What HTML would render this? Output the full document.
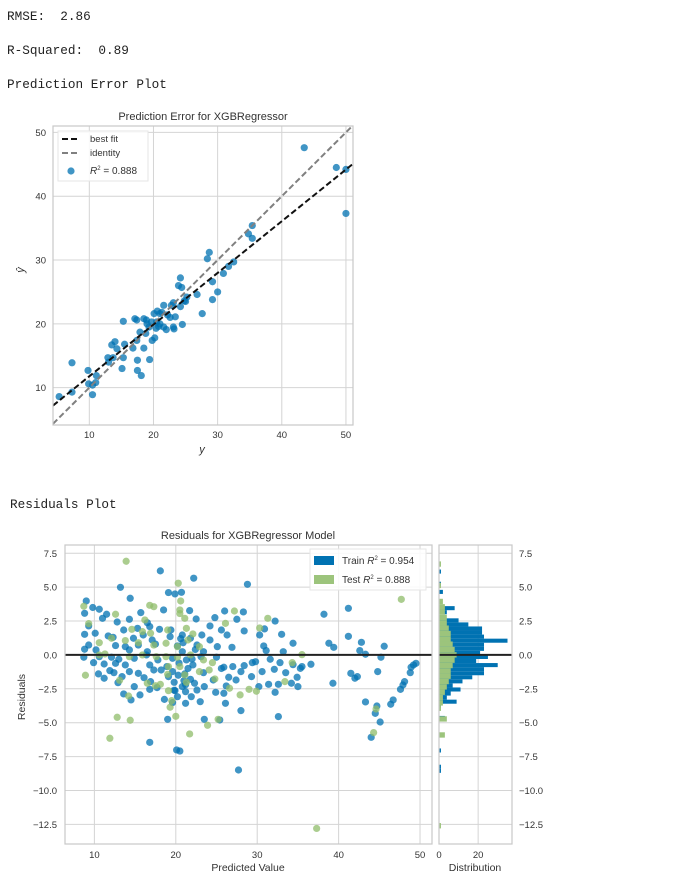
<!DOCTYPE html>
<html><head><meta charset="utf-8"><style>
body{margin:0;background:#fff;width:677px;height:890px;overflow:hidden}
.mono{font-family:"Liberation Mono",monospace;font-size:12.7px;fill:#222;white-space:pre}
.sans{font-family:"Liberation Sans","DejaVu Sans",sans-serif;fill:#333}
</style></head><body>
<svg id="root" width="677" height="890" xmlns="http://www.w3.org/2000/svg">
<text class="mono" x="7" y="20" xml:space="preserve">RMSE:  2.86</text>
<text class="mono" x="7" y="54" xml:space="preserve">R-Squared:  0.89</text>
<text class="mono" x="7" y="88">Prediction Error Plot</text>
<text class="mono" x="10" y="508">Residuals Plot</text>
<g id="pe"></g>
<g id="res"></g>
</svg>
<script>
// ---------- Prediction error data ----------
const peActual=[43.5,48.5,50,50,34.8,35.4,35.4,28.7,28.4,32.5,31.7,30.9,24.2,23.9,24.4,29.2,30,26.8,29.2,25.2,25,23.1,21.6,22.8,24.2,27.6,20.6,20.1,21,23.4,22.6,15.3,17.1,17.4,18.5,18.9,19.7,20.5,21,19.3,21.6,23.1,24.5,20.4,22,23.2,17.9,18.8,20.2,19.8,17.4,13.5,14,14.3,15.5,16.8,18.5,12.9,13.7,15.3,17.5,19.4,15.1,17.5,18.1,7.3,9.8,9.9,10.5,11,11.1,10.5,7.3,5.3,13,22.2,21.3,19.0,20.8,24.8];
const pePred=[47.6,44.5,44.2,37.3,34.1,35.4,33.4,31.2,30.2,29.7,29,27.9,27.2,26,25.7,26.6,25,24.6,23.8,24.2,23.5,23.3,22.9,22.9,22.7,21.6,22,21.6,21.6,21.1,21,20.4,20.8,20.6,20.8,20.6,20.3,20.3,20,19.5,19.5,19.5,19.9,19.3,19.1,19.2,18.7,18.5,17.8,17.4,17.4,16.7,17.2,16.1,16.8,16.2,16.2,14.7,14.7,14.7,14.3,14.4,13,12.7,11.9,13.9,12.7,10.6,10.4,10.8,11.9,8.9,9.3,8.6,14,21.4,21.8,20.0,19.6,23.6];
const peXTicks=[10,20,30,40,50];
const peYTicks=[10,20,30,40,50];
const fitSlope=0.81, fitIntercept=3.68;

// ---------- Residuals data ----------
const trainPred=[18.1,22.2,28.8,13.2,19.1,19.9,20.7,14.4,9.0,9.8,10.6,41.2,26.0,28.3,21.7,18.5,15.7,8.8,11.5,38.2,11.0,14.3,24.8,27.5,32.2,22.5,12.8,16.5,9.3,10.1,8.8,13.6,15.3,16.8,18.0,19.4,24.2,25.6,28.4,30.9,11.7,16.0,20.8,23.2,26.3,30.3,33.0,41.2,12.3,14.8,17.1,19.3,21.8,24.2,12.6,9.3,13.8,15.4,17.5,20.2,22.6,25.1,26.9,30.8,34.4,38.8,39.4,42.8,45.6,8.8,10.2,14.3,16.5,20.8,23.4,31.1,33.2,42.6,43.3,8.7,10.6,12.1,13.0,14.9,16.4,17.8,19.6,21.3,23.1,25.0,29.8,31.6,45.2,9.9,11.2,12.6,13.8,16.8,18.9,22.1,25.9,27.0,28.4,29.4,32.8,34.4,36.6,35.3,49.2,49.5,48.9,11.9,14.3,17.3,19.6,21.1,23.4,25.6,28.0,30.6,32.1,35.5,10.5,12.4,15.4,18.2,41.5,48.8,44.8,11.2,13.4,16.1,19.1,21.8,24.6,26.5,29.3,33.5,34.9,42.0,42.3,48.1,47.9,12.9,16.9,19.8,22.3,27.4,31.4,34.2,39.3,14.9,17.7,20.8,23.5,26.2,30.2,32.6,35.0,47.6,13.6,16.8,19.9,21.2,22.6,24.9,25.9,32.2,15.6,18.6,20.2,21.9,14.5,19.6,21.2,23.0,26.1,43.3,46.7,46.4,44.7,28.0,44.5,19.0,23.5,25.4,32.6,45.1,16.8,44.0,20.1,20.5,27.7,20.4,21.0,22.0,19.8,20.9,21.5,22.4,20.3,21.2,20.6];
const trainRes=[6.2,5.66,5.21,4.99,4.6,4.5,4.62,4.18,3.98,3.5,3.37,3.44,3.24,3.17,3.27,3.32,3.12,3.07,3.0,3.0,2.7,2.63,2.75,2.63,2.5,2.65,2.43,2.38,2.14,1.6,1.52,1.84,1.96,2.09,1.89,1.84,2.14,1.84,1.77,1.92,1.4,1.47,1.47,1.47,1.47,1.47,1.52,1.37,1.3,1.23,1.1,1.35,1.23,1.1,0.69,0.73,0.61,0.73,0.8,0.66,0.73,0.61,0.56,0.66,0.86,0.86,0.56,0.93,0.64,0.42,0.37,0.37,0.24,0.24,0.24,0.32,0.24,0.32,0.05,-0.17,-0.13,-0.17,-0.32,-0.25,0.0,-0.37,-0.25,-0.37,-0.13,-0.17,-0.5,-0.32,-0.17,-0.57,-0.67,-0.62,-0.74,-0.74,-0.86,-0.74,-0.91,-0.86,-0.79,-0.57,-0.57,-0.72,-0.69,-0.99,-0.74,-0.62,-0.91,-1.16,-1.23,-1.11,-1.23,-1.4,-1.31,-1.0,-1.23,-1.23,-1.06,-0.86,-1.4,-1.31,-1.36,-1.11,-1.36,-1.31,-1.23,-1.72,-1.6,-1.68,-1.6,-1.8,-1.85,-1.65,-1.6,-1.31,-1.65,-1.72,-1.6,-1.97,-2.22,-2.05,-1.97,-2.02,-2.09,-1.85,-2.17,-2.09,-2.09,-2.34,-2.41,-2.34,-2.34,-2.29,-2.34,-2.17,-2.34,-2.54,-2.88,-2.54,-2.64,-2.71,-2.59,-2.76,-2.83,-2.76,-2.95,-3.28,-3.08,-3.08,-3.32,-3.52,-3.57,-3.45,-3.57,-3.47,-3.32,-3.64,-3.77,-4.11,-4.31,-4.75,-4.75,-4.8,-4.55,-4.95,-6.45,-6.08,-7.01,-7.09,-8.49,-0.6,-1.9,-0.3,-2.6,0.9,-1.0,0.4,-1.5,-2.2,1.2];
const testPred=[13.9,20.3,20.6,47.7,8.7,16.8,17.3,20.5,27.2,12.6,9.3,16.2,20.5,21.1,26.1,31.3,30.3,14.6,15.9,16.9,19.0,21.3,22.1,12.1,10.6,13.8,15.4,17.3,18.8,20.2,21.5,22.9,11.3,10.6,14.3,15.9,17.6,18.8,20.2,21.8,23.4,35.5,34.3,19.1,20.5,24.5,22.9,8.9,19.0,21.1,24.1,13.1,16.5,17.5,18.1,21.3,24.8,26.6,29.0,29.9,33.4,14.2,19.1,27.9,19.5,19.3,44.6,12.8,14.4,20.0,25.2,23.9,11.9,21.7,44.3,37.3];
const testRes=[6.91,5.29,3.98,4.1,3.59,3.66,3.56,3.32,3.24,3.0,2.31,2.58,3.05,2.7,2.33,2.7,1.99,1.89,1.72,1.6,1.84,1.96,1.55,1.23,0.9,1.06,0.9,0.73,0.86,0.61,1.1,0.61,0.07,0.0,-0.13,0.0,-0.13,-0.13,-0.17,0.0,-0.37,0.02,-0.57,-0.86,-0.86,-0.57,-1.23,-1.5,-1.43,-1.48,-1.11,-1.87,-2.09,-2.27,-2.17,-2.02,-1.77,-2.46,-2.54,-2.68,-1.97,-3.03,-2.64,-2.95,-3.37,-3.86,-3.99,-4.6,-4.82,-4.53,-4.75,-5.19,-6.15,-5.83,-5.73,-12.8];
const resXTicks=[10,20,30,40,50];
const resYTicks=[7.5,5.0,2.5,0.0,-2.5,-5.0,-7.5,-10.0,-12.5];
const histXTicks=[0,20];
const trainBinStart=-8.7, trainBinWidth=0.3;
const trainCounts=[1,1,0,0,0,1,0,0,0,0,0,0,0,3,0,0,1,9,4,6,11,7,12,17,23,23,30,19,25,21,23,23,35,23,22,22,15,10,0,4,8,0,0,0,2,0,1,0,0,1];
const testBinStart=-12.8, testBinWidth=0.394;
const testCounts=[1,0,0,0,0,0,0,0,0,0,0,0,0,0,0,0,0,3,0,0,4,0,1,2,2,3,4,5,6,6,7,8,9,8,7,6,6,5,4,4,3,3,2,0,0,1,0,0,0,1];

const NS="http://www.w3.org/2000/svg";
function mk(parent,tag,attrs,name,txt){
  const e=document.createElementNS(NS,tag);
  for(const k in attrs)e.setAttribute(k,attrs[k]);
  
  
  if(txt!==undefined)e.textContent=txt;
  parent.appendChild(e);return e;
}
const GRID="#d4d4d4", FRAME="#c8c8c8", BLUE="#0072b2", GREEN="#8fbc6a", PR=3.6;

// ---------- Prediction error chart ----------
(function(){
  const g=document.getElementById('pe');
  const L=53,R=353,T=126,B=425,x0=4.34,x1=51.1,y0=4.15,y1=51.0;
  const sx=v=>L+(v-x0)/(x1-x0)*(R-L), sy=v=>B-(v-y0)/(y1-y0)*(B-T);
  mk(g,'rect',{x:L,y:T,width:R-L,height:B-T,fill:'#fff'},'plot-area');
  peXTicks.forEach(t=>{mk(g,'line',{x1:sx(t),x2:sx(t),y1:T,y2:B,stroke:GRID,'stroke-width':1},'x-gridline');
    mk(g,'text',{x:sx(t),y:B+13,'text-anchor':'middle','font-size':9.5,class:'sans'},'x-tick-label',t);});
  peYTicks.forEach(t=>{mk(g,'line',{x1:L,x2:R,y1:sy(t),y2:sy(t),stroke:GRID,'stroke-width':1},'y-gridline');
    mk(g,'text',{x:L-7,y:sy(t)+3.5,'text-anchor':'end','font-size':9.5,class:'sans'},'y-tick-label',t);});
  const cp=mk(g,'clipPath',{id:'peclip'},'clip');mk(cp,'rect',{x:L,y:T,width:R-L,height:B-T},'clip-rect');
  const cg=mk(g,'g',{'clip-path':'url(#peclip)'},'plot-marks');
  peActual.forEach((a,i)=>{mk(cg,'circle',{cx:sx(a),cy:sy(pePred[i]),r:PR,fill:BLUE,'fill-opacity':0.75},'data-point');});
  mk(cg,'line',{x1:sx(x0),y1:sy(x0),x2:sx(x1),y2:sy(x1),stroke:'#808080','stroke-width':2,'stroke-dasharray':'6,3'},'identity-line');
  mk(cg,'line',{x1:sx(x0),y1:sy(fitSlope*x0+fitIntercept),x2:sx(x1),y2:sy(fitSlope*x1+fitIntercept),stroke:'#111','stroke-width':2,'stroke-dasharray':'6,3'},'best-fit-line');
  mk(g,'rect',{x:L,y:T,width:R-L,height:B-T,fill:'none',stroke:FRAME,'stroke-width':1.2},'plot-frame');
  const lg=mk(g,'g',{},'legend');
  mk(lg,'rect',{x:58,y:131,width:90,height:50,fill:'#fff','fill-opacity':0.85,stroke:'#e6e6e6'},'legend-box');
  mk(lg,'line',{x1:62,x2:80,y1:139,y2:139,stroke:'#111','stroke-width':2,'stroke-dasharray':'6,3'},'legend-best-fit-swatch');
  mk(lg,'text',{x:90,y:142,'font-size':9.5,class:'sans'},'legend-best-fit','best fit');
  mk(lg,'line',{x1:62,x2:80,y1:153,y2:153,stroke:'#808080','stroke-width':2,'stroke-dasharray':'6,3'},'legend-identity-swatch');
  mk(lg,'text',{x:90,y:156,'font-size':9.5,class:'sans'},'legend-identity','identity');
  mk(lg,'circle',{cx:71,cy:171,r:PR,fill:BLUE,'fill-opacity':0.75},'legend-r2-swatch');
  const t=mk(lg,'text',{x:90,y:174,'font-size':10,class:'sans'},'legend-r2');
  t.innerHTML='<tspan font-style="italic">R</tspan><tspan font-size="6" dy="-4">2</tspan><tspan dy="4"> = 0.888</tspan>';
  mk(g,'text',{x:203,y:120,'text-anchor':'middle','font-size':11,class:'sans'},'chart-title','Prediction Error for XGBRegressor');
  mk(g,'text',{x:202,y:453,'text-anchor':'middle','font-size':11,'font-style':'italic',class:'sans'},'x-axis-title','y');
  mk(g,'text',{x:24,y:270,'text-anchor':'middle','font-size':11,'font-style':'italic',class:'sans',transform:'rotate(-90 24 270)'},'y-axis-title','ŷ');
})();

// ---------- Residuals chart ----------
(function(){
  const g=document.getElementById('res');
  const L=65,R=432,T=545,B=844,x0=6.39,x1=51.47,y0=-13.95,y1=8.11;
  const HL=439,HR=512,h0=0,h1=37.3;
  const sx=v=>L+(v-x0)/(x1-x0)*(R-L), sy=v=>B-(v-y0)/(y1-y0)*(B-T);
  const hx=v=>HL+(v-h0)/(h1-h0)*(HR-HL);
  mk(g,'rect',{x:L,y:T,width:R-L,height:B-T,fill:'#fff'},'residuals-plot-area');
  mk(g,'rect',{x:HL,y:T,width:HR-HL,height:B-T,fill:'#fff'},'histogram-plot-area');
  resXTicks.forEach(t=>{mk(g,'line',{x1:sx(t),x2:sx(t),y1:T,y2:B,stroke:GRID},'x-gridline');
    mk(g,'text',{x:sx(t),y:B+14,'text-anchor':'middle','font-size':9.5,class:'sans'},'x-tick-label',t);});
  resYTicks.forEach(t=>{
    const lab=t<0?'−'+Math.abs(t).toFixed(1):t.toFixed(1);
    mk(g,'line',{x1:L,x2:R,y1:sy(t),y2:sy(t),stroke:GRID},'y-gridline');
    mk(g,'line',{x1:HL,x2:HR,y1:sy(t),y2:sy(t),stroke:GRID},'hist-y-gridline');
    mk(g,'text',{x:L-8,y:sy(t)+3.5,'text-anchor':'end','font-size':9.5,class:'sans'},'y-tick-label',lab);
    mk(g,'text',{x:519,y:sy(t)+3.5,'text-anchor':'start','font-size':9.5,class:'sans'},'hist-y-tick-label',lab);});
  histXTicks.forEach(t=>{mk(g,'line',{x1:hx(t),x2:hx(t),y1:T,y2:B,stroke:GRID},'hist-x-gridline');
    mk(g,'text',{x:hx(t),y:B+14,'text-anchor':'middle','font-size':9.5,class:'sans'},'hist-x-tick-label',t);});
  const cp=mk(g,'clipPath',{id:'resclip'},'clip');mk(cp,'rect',{x:L,y:T,width:R-L,height:B-T},'clip-rect');
  const cg=mk(g,'g',{'clip-path':'url(#resclip)'},'residual-marks');
  trainPred.forEach((p,i)=>{mk(cg,'circle',{cx:sx(p),cy:sy(trainRes[i]),r:PR,fill:BLUE,'fill-opacity':0.75},'train-point');});
  testPred.forEach((p,i)=>{mk(cg,'circle',{cx:sx(p),cy:sy(testRes[i]),r:PR,fill:GREEN,'fill-opacity':0.75},'test-point');});
  trainCounts.forEach((c,i)=>{if(!c)return;const a=trainBinStart+i*trainBinWidth;
    mk(g,'rect',{x:hx(0),y:sy(a+trainBinWidth),width:hx(c)-hx(0),height:sy(a)-sy(a+trainBinWidth),fill:BLUE},'train-hist-bar');});
  testCounts.forEach((c,i)=>{if(!c)return;const a=testBinStart+i*testBinWidth;
    mk(g,'rect',{x:hx(0),y:sy(a+testBinWidth),width:hx(c)-hx(0),height:sy(a)-sy(a+testBinWidth),fill:'#9cc47c'},'test-hist-bar');});
  mk(g,'line',{x1:L,x2:R,y1:sy(0),y2:sy(0),stroke:'#222','stroke-width':2},'zero-line');
  mk(g,'line',{x1:HL,x2:HR,y1:sy(0),y2:sy(0),stroke:'#222','stroke-width':2},'hist-zero-line');
  mk(g,'rect',{x:L,y:T,width:R-L,height:B-T,fill:'none',stroke:FRAME,'stroke-width':1.2},'residuals-frame');
  mk(g,'rect',{x:HL,y:T,width:HR-HL,height:B-T,fill:'none',stroke:FRAME,'stroke-width':1.2},'histogram-frame');
  const lg=mk(g,'g',{},'legend');
  mk(lg,'rect',{x:310,y:549,width:116,height:41,fill:'#fff','fill-opacity':0.85,stroke:'#e6e6e6'},'legend-box');
  mk(lg,'rect',{x:314,y:556,width:20,height:9,fill:BLUE},'legend-train-swatch');
  const t1=mk(lg,'text',{x:342,y:564,'font-size':10,class:'sans'},'legend-train');
  t1.innerHTML='Train <tspan font-style="italic">R</tspan><tspan font-size="6" dy="-4">2</tspan><tspan dy="4"> = 0.954</tspan>';
  mk(lg,'rect',{x:314,y:575,width:20,height:9,fill:'#9cc47c'},'legend-test-swatch');
  const t2=mk(lg,'text',{x:342,y:583,'font-size':10,class:'sans'},'legend-test');
  t2.innerHTML='Test <tspan font-style="italic">R</tspan><tspan font-size="6" dy="-4">2</tspan><tspan dy="4"> = 0.888</tspan>';
  mk(g,'text',{x:248,y:539,'text-anchor':'middle','font-size':11,class:'sans'},'chart-title','Residuals for XGBRegressor Model');
  mk(g,'text',{x:248,y:871,'text-anchor':'middle','font-size':10.5,class:'sans'},'x-axis-title','Predicted Value');
  mk(g,'text',{x:475,y:871,'text-anchor':'middle','font-size':10.5,class:'sans'},'hist-x-axis-title','Distribution');
  mk(g,'text',{x:25,y:697,'text-anchor':'middle','font-size':10.5,class:'sans',transform:'rotate(-90 25 697)'},'y-axis-title','Residuals');
})();
</script>
</body></html>
